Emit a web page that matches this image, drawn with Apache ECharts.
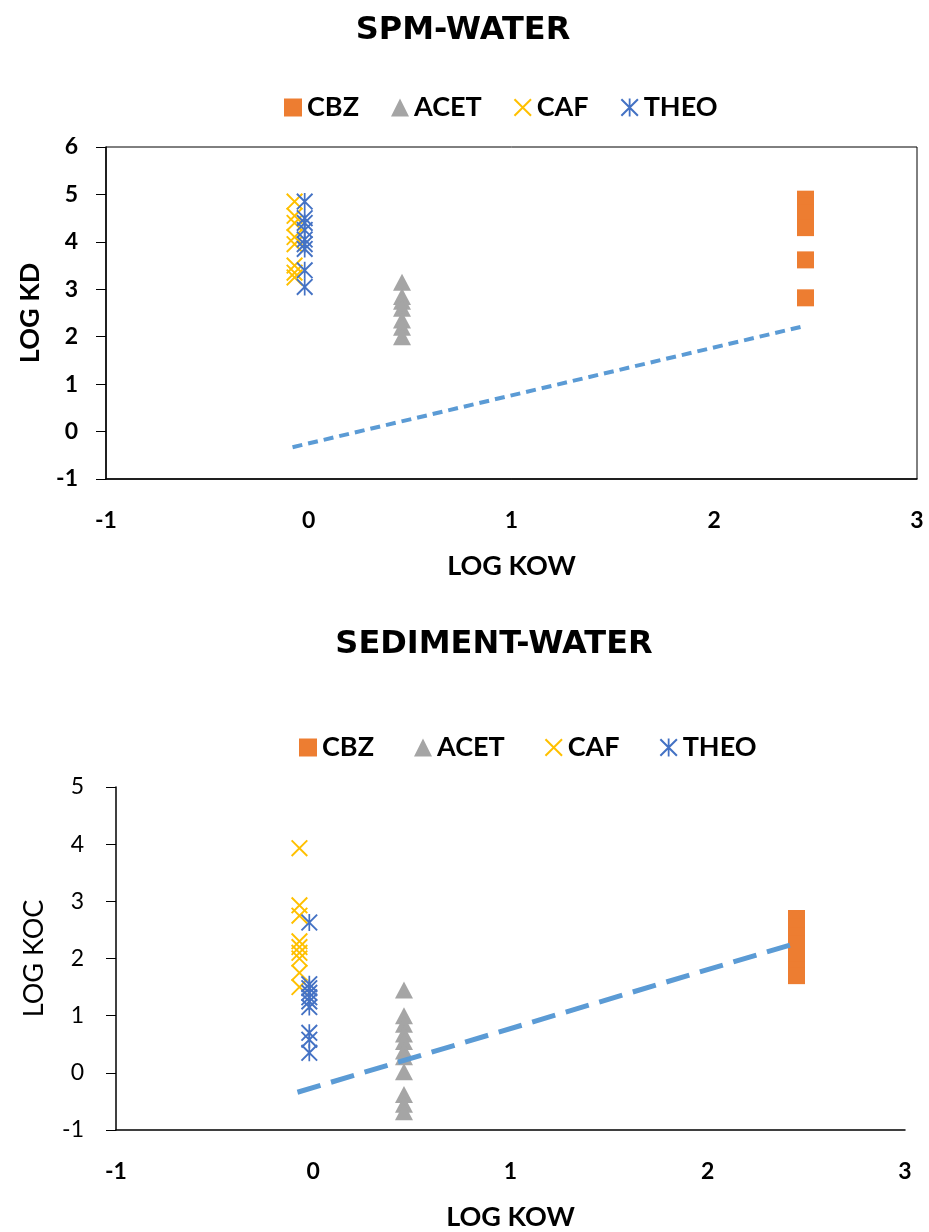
<!DOCTYPE html>
<html>
<head>
<meta charset="utf-8">
<script src="https://cdn.jsdelivr.net/npm/echarts@6/dist/echarts.min.js"></script>
<style>
  html, body { margin: 0; padding: 0; background: #ffffff; }
  #chart { width: 929px; height: 1232px; }
</style>
</head>
<body>
<div id="chart"></div>
<script>
// Compound names and their octanol-water partition coefficients (log Kow)
const compounds = ['CBZ', 'ACET', 'CAF', 'THEO'];
const logKow = [2.45, 0.46, -0.07, -0.02];

// SPM-water distribution coefficients (log Kd)
const spmCBZ  = [4.9, 4.75, 4.6, 4.45, 4.3, 3.62, 2.82];
const spmACET = [3.15, 2.85, 2.75, 2.6, 2.35, 2.2, 2.0];
const spmCAF  = [4.85, 4.55, 4.4, 4.1, 3.95, 3.5, 3.35, 3.25];
const spmTHEO = [4.85, 4.5, 4.4, 4.25, 4.05, 3.95, 3.85, 3.4, 3.05];

// Sediment-water organic-carbon normalised coefficients (log Koc)
const sedCBZ  = [2.7, 2.55, 2.4, 2.25, 2.1, 1.95, 1.8, 1.7];
const sedACET = [1.45, 1.0, 0.85, 0.68, 0.55, 0.38, 0.28, 0.02, -0.38, -0.55, -0.68];
const sedCAF  = [3.93, 2.93, 2.75, 2.3, 2.2, 2.1, 2.0, 1.75, 1.5];
const sedTHEO = [2.63, 1.55, 1.48, 1.4, 1.32, 1.25, 1.15, 0.7, 0.58, 0.35];

// Dashed reference line end points
const refKow = [-0.08, 2.45];
const refSpm = [-0.33, 2.23];
const refSed = [-0.34, 2.27];

// Axis tick ranges
const topYTicks = { min: -1, max: 6 };
const botYTicks = { min: -1, max: 5 };
const kowTicks  = { min: -1, max: 3 };

const colors = { CBZ: '#ED7D31', ACET: '#A5A5A5', CAF: '#FFC000', THEO: '#4472C4' };
const FONT = 'Lato, "Open Sans", sans-serif';
const TITLE_FONT = '"DejaVu Sans", sans-serif';

// cross and asterisk marker outlines built from thin bars
const crossPath = 'path://M0,1.6L1.6,0L20,18.4L18.4,20Z M18.4,0L20,1.6L1.6,20L0,18.4Z';
const starPath  = 'path://M0,1.6L1.6,0L20,18.4L18.4,20Z M18.4,0L20,1.6L1.6,20L0,18.4Z M9,0L11,0L11,20L9,20Z';

const symbols = { CBZ: 'rect', ACET: 'triangle', CAF: crossPath, THEO: starPath };
const sizes   = { CBZ: [17, 17], ACET: [18, 17], CAF: [17, 17], THEO: [17, 17] };

function points(x, ys) { return ys.map(y => [x, y]); }

const spmSets = [spmCBZ, spmACET, spmCAF, spmTHEO];
const sedSets = [sedCBZ, sedACET, sedCAF, sedTHEO];

function scatterSeries(sets, idx) {
  return compounds.map((name, i) => ({
    type: 'scatter',
    name: name,
    xAxisIndex: idx,
    yAxisIndex: idx,
    data: points(logKow[i], sets[i]),
    symbol: symbols[name],
    symbolSize: sizes[name],
    itemStyle: { color: colors[name], opacity: 1 },
    emphasis: { disabled: true },
    z: 3
  }));
}

function refSeries(ys, idx, width, dash) {
  return {
    type: 'line',
    xAxisIndex: idx,
    yAxisIndex: idx,
    data: [[refKow[0], ys[0]], [refKow[1], ys[1]]],
    symbol: 'none',
    lineStyle: { color: '#5B9BD5', width: width, type: dash, cap: 'butt' },
    z: 5,
    silent: true
  };
}

const tickLabel = (bold, margin) => ({
  margin: margin, fontFamily: FONT, fontSize: 23, color: '#000',
  fontWeight: bold ? 'bold' : 'normal'
});

const nameStyle = (bold) => ({
  fontFamily: FONT, fontWeight: bold ? 'bold' : 'normal', fontSize: 27, color: '#000'
});

const legendText = { fontFamily: FONT, fontWeight: 'bold', fontSize: 27, color: '#000', padding: [0, 0, 0, 0] };

const axisLine = { show: true, onZero: false, lineStyle: { color: '#000', width: 1.5 } };
const yTick = { show: true, length: 10, lineStyle: { color: '#000', width: 1 } };

const option = {
  animation: false,
  backgroundColor: '#ffffff',
  title: [
    { text: 'SPM-WATER', left: 458, top: 10, textAlign: 'center',
      textStyle: { fontFamily: TITLE_FONT, fontWeight: 'bold', fontSize: 32, color: '#000' } },
    { text: 'SEDIMENT-WATER', left: 489, top: 624, textAlign: 'center',
      textStyle: { fontFamily: TITLE_FONT, fontWeight: 'bold', fontSize: 32, color: '#000' } }
  ],
  legend: [
    { data: compounds, left: 279, top: 89, itemWidth: 18, itemHeight: 18, itemGap: 32,
      textStyle: legendText, selectedMode: false },
    { data: compounds, left: 294, top: 729, itemWidth: 18, itemHeight: 18, itemGap: 40,
      textStyle: legendText, selectedMode: false }
  ],
  grid: [
    { left: 106, top: 147, width: 811, height: 332, show: true, borderColor: '#000', borderWidth: 1, backgroundColor: 'transparent' },
    { left: 116, top: 787, width: 789, height: 343, show: false }
  ],
  xAxis: [
    { type: 'value', gridIndex: 0, min: kowTicks.min, max: kowTicks.max, interval: 1,
      name: 'LOG KOW', nameLocation: 'middle', nameGap: 74, nameTextStyle: nameStyle(true),
      axisLine: axisLine, axisTick: { show: false }, splitLine: { show: false },
      axisLabel: tickLabel(true, 30) },
    { type: 'value', gridIndex: 1, min: kowTicks.min, max: kowTicks.max, interval: 1,
      name: 'LOG KOW', nameLocation: 'middle', nameGap: 74, nameTextStyle: nameStyle(true),
      axisLine: axisLine, axisTick: { show: false }, splitLine: { show: false },
      axisLabel: tickLabel(true, 30) }
  ],
  yAxis: [
    { type: 'value', gridIndex: 0, min: topYTicks.min, max: topYTicks.max, interval: 1,
      name: 'LOG KD', nameLocation: 'middle', nameGap: 62, nameRotate: 90, nameTextStyle: nameStyle(true),
      axisLine: axisLine, axisTick: yTick, splitLine: { show: false },
      axisLabel: tickLabel(true, 28) },
    { type: 'value', gridIndex: 1, min: botYTicks.min, max: botYTicks.max, interval: 1,
      name: 'LOG KOC', nameLocation: 'middle', nameGap: 68, nameRotate: 90, nameTextStyle: nameStyle(false),
      axisLine: axisLine, axisTick: yTick, splitLine: { show: false },
      axisLabel: tickLabel(false, 32) }
  ],
  series: [
    ...scatterSeries(spmSets, 0),
    refSeries(refSpm, 0, 4, [10, 6]),
    ...scatterSeries(sedSets, 1),
    refSeries(refSed, 1, 5, [24, 11])
  ]
};

const chart = echarts.init(document.getElementById('chart'), null, { renderer: 'canvas' });
chart.setOption(option);
</script>
</body>
</html>
